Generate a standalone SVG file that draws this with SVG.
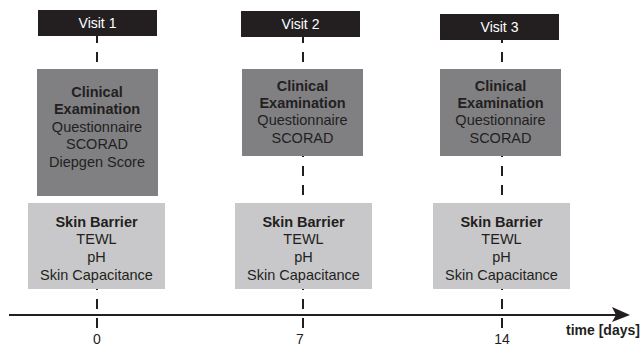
<svg xmlns="http://www.w3.org/2000/svg" width="642" height="347" viewBox="0 0 642 347">
<style>
text{font-family:"Liberation Sans",Arial,sans-serif;font-size:14.5px;fill:#231f20;text-anchor:middle}
.b{font-weight:bold}
.w{fill:#ffffff;font-size:14px}
.t{font-size:14px}
.visit{fill:#231f20}
.clin{fill:#808083}
.skin{fill:#c8c8ca}
.dash{stroke:#231f20;stroke-width:2;stroke-dasharray:10 9;fill:none}
.axis{stroke:#231f20;stroke-width:1.8;fill:none}
</style>
<rect width="642" height="347" fill="#ffffff"/>
<g id="connectors">
<line class="dash" x1="97" y1="32" x2="97" y2="329" stroke-dashoffset="-1"/>
<line class="dash" x1="303" y1="32" x2="303" y2="329" stroke-dashoffset="-1"/>
<line class="dash" x1="502" y1="32" x2="502" y2="329" stroke-dashoffset="-1"/>
<line class="axis" x1="9" y1="315" x2="616" y2="315"/>
<polygon points="612,307 630,315 612,322 616,315" fill="#231f20"/>
</g>
<g id="visit1"><rect class="visit" x="38" y="10" width="119" height="26"/><text class="w" x="97.5" y="28">Visit 1</text></g>
<g id="visit2"><rect class="visit" x="241" y="11" width="119" height="26"/><text class="w" x="300.5" y="29">Visit 2</text></g>
<g id="visit3"><rect class="visit" x="440" y="14" width="119" height="26"/><text class="w" x="499.5" y="32">Visit 3</text></g>
<g id="clinical1"><rect class="clin" x="37" y="69" width="121" height="127"/>
<text class="b" x="97" y="96.7">Clinical</text><text class="b" x="97" y="114.3">Examination</text>
<text x="97" y="131.7">Questionnaire</text><text x="97" y="149.3">SCORAD</text><text x="97" y="166.7">Diepgen Score</text></g>
<g id="clinical2"><rect class="clin" x="242" y="69" width="121" height="87"/>
<text class="b" x="302.5" y="90.7">Clinical</text><text class="b" x="302.5" y="108">Examination</text>
<text x="302.5" y="125.3">Questionnaire</text><text x="302.5" y="142.7">SCORAD</text></g>
<g id="clinical3"><rect class="clin" x="440" y="69" width="121" height="87"/>
<text class="b" x="500.5" y="90.7">Clinical</text><text class="b" x="500.5" y="108">Examination</text>
<text x="500.5" y="125.3">Questionnaire</text><text x="500.5" y="142.7">SCORAD</text></g>
<g id="skin1"><rect class="skin" x="28" y="203" width="137" height="86"/>
<text class="b" x="96.5" y="226.7">Skin Barrier</text><text x="96.5" y="244.3">TEWL</text><text x="96.5" y="262">pH</text><text x="96.5" y="279.5">Skin Capacitance</text></g>
<g id="skin2"><rect class="skin" x="235" y="203" width="137" height="86"/>
<text class="b" x="303.5" y="226.7">Skin Barrier</text><text x="303.5" y="244.3">TEWL</text><text x="303.5" y="262">pH</text><text x="303.5" y="279.5">Skin Capacitance</text></g>
<g id="skin3"><rect class="skin" x="433" y="203" width="137" height="86"/>
<text class="b" x="501.5" y="226.7">Skin Barrier</text><text x="501.5" y="244.3">TEWL</text><text x="501.5" y="262">pH</text><text x="501.5" y="279.5">Skin Capacitance</text></g>
<g id="labels">
<text class="t" x="97" y="343.5">0</text><text class="t" x="300" y="343.5">7</text><text class="t" x="502" y="343.5">14</text>
<text class="b t" x="603" y="335">time [days]</text>
</g>
</svg>
